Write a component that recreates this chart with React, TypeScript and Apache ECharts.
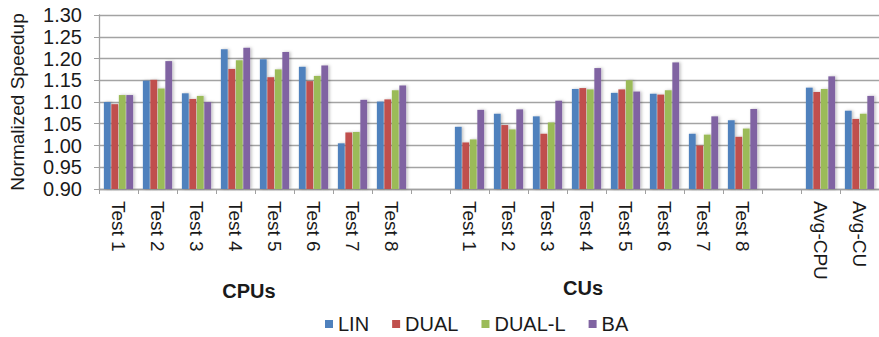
import React, { useEffect, useRef } from "react";
import * as echarts from "echarts";

const cpuTests = ["Test 1", "Test 2", "Test 3", "Test 4", "Test 5", "Test 6", "Test 7", "Test 8"];
const cuTests = ["Test 1", "Test 2", "Test 3", "Test 4", "Test 5", "Test 6", "Test 7", "Test 8"];
const avgLabels = ["Avg-CPU", "Avg-CU"];

const seriesNames = ["LIN", "DUAL", "DUAL-L", "BA"];
const colors = ["#4F81BD", "#C0504D", "#9BBB59", "#8064A2"];

// CPU tests
const linCPU = [1.1, 1.149, 1.12, 1.221, 1.198, 1.181, 1.005, 1.101];
const dualCPU = [1.095, 1.151, 1.107, 1.176, 1.157, 1.148, 1.03, 1.106];
const dualLCPU = [1.116, 1.131, 1.114, 1.196, 1.175, 1.16, 1.031, 1.127];
const baCPU = [1.116, 1.194, 1.1, 1.225, 1.215, 1.184, 1.105, 1.138];

// CU tests
const linCU = [1.043, 1.073, 1.067, 1.13, 1.121, 1.119, 1.027, 1.058];
const dualCU = [1.007, 1.047, 1.027, 1.132, 1.129, 1.117, 1.0, 1.02];
const dualLCU = [1.014, 1.037, 1.053, 1.129, 1.15, 1.127, 1.025, 1.039];
const baCU = [1.082, 1.083, 1.103, 1.178, 1.124, 1.191, 1.067, 1.084];

// Averages [Avg-CPU, Avg-CU]
const linAvg = [1.133, 1.08];
const dualAvg = [1.123, 1.061];
const dualLAvg = [1.13, 1.073];
const baAvg = [1.159, 1.114];

const yTicks = ["0.90", "0.95", "1.00", "1.05", "1.10", "1.15", "1.20", "1.25", "1.30"];

const FONT = '"Liberation Sans", Arial, Helvetica, sans-serif';

export default function App() {
  const ref = useRef<HTMLDivElement>(null);
  useEffect(() => {
    if (!ref.current) return;
    const chart = echarts.init(ref.current, null, { renderer: "svg" });

    const tickLabels = [...cpuTests, "", ...cuTests, "", ...avgLabels];
    const categories = tickLabels.map((_, i) => "c" + i);
    const build = (cpu: number[], cu: number[], avg: number[]) => [...cpu, null, ...cu, null, ...avg];
    const allData = [
      build(linCPU, linCU, linAvg),
      build(dualCPU, dualCU, dualAvg),
      build(dualLCPU, dualLCU, dualLAvg),
      build(baCPU, baCU, baAvg),
    ];

    chart.setOption({
      animation: false,
      backgroundColor: "#ffffff",
      textStyle: { fontFamily: FONT },
      grid: { left: 89, top: 15, width: 792, bottom: 148, containLabel: false },
      legend: {
        data: seriesNames,
        left: 325,
        top: 314,
        padding: 0,
        icon: "rect",
        itemWidth: 8,
        itemHeight: 8,
        itemGap: 23,
        textStyle: { fontSize: 20, color: "#1a1a1a", fontFamily: FONT },
      },
      xAxis: {
        type: "category",
        data: categories,
        axisLine: { show: true, lineStyle: { color: "#a0a0a0", width: 1.3 } },
        axisTick: { show: true, length: 5, lineStyle: { color: "#a0a0a0" } },
        axisLabel: {
          interval: 0,
          rotate: -90,
          margin: 12,
          fontSize: 19,
          color: "#1a1a1a",
          fontFamily: FONT,
          formatter: (_v: string, i: number) => tickLabels[i],
        },
      },
      yAxis: {
        type: "value",
        min: 0.9,
        max: 1.3,
        interval: 0.05,
        name: "Normalized Speedup",
        nameLocation: "middle",
        nameGap: 72,
        nameMoveOverlap: false,
        nameTextStyle: { fontSize: 19, color: "#1a1a1a", fontFamily: FONT },
        axisLine: { show: true, lineStyle: { color: "#a0a0a0", width: 1.3 } },
        axisTick: { show: true, length: 5, lineStyle: { color: "#a0a0a0" } },
        splitLine: { show: true, lineStyle: { color: "#a3a3a3", width: 1.4 } },
        axisLabel: {
          margin: 17,
          fontSize: 20,
          color: "#1a1a1a",
          fontFamily: FONT,
          formatter: (v: number) => {
            const idx = Math.round((v - 0.9) / 0.05);
            return yTicks[idx] ?? v.toFixed(2);
          },
        },
      },
      graphic: [
        {
          type: "text",
          x: 249,
          y: 291,
          style: {
            text: "CPUs",
            fontSize: 20,
            fontWeight: "bold",
            fontFamily: FONT,
            align: "center",
            verticalAlign: "middle",
            fill: "#1a1a1a",
          },
        },
        {
          type: "text",
          x: 583,
          y: 288,
          style: {
            text: "CUs",
            fontSize: 20,
            fontWeight: "bold",
            fontFamily: FONT,
            align: "center",
            verticalAlign: "middle",
            fill: "#1a1a1a",
          },
        },
      ],
      series: seriesNames.map((name, k) => ({
        name,
        type: "bar",
        data: allData[k],
        barCategoryGap: "25%",
        barGap: "10%",
        itemStyle: {
          color: colors[k],
          shadowColor: "rgba(0,0,0,0.25)",
          shadowBlur: 3,
          shadowOffsetX: 1.5,
          shadowOffsetY: 0,
        },
      })),
    });
    return () => chart.dispose();
  }, []);
  return (
    <div
      ref={ref}
      style={{ position: "fixed", left: 0, top: 0, width: 879, height: 337, background: "#fff" }}
    />
  );
}
